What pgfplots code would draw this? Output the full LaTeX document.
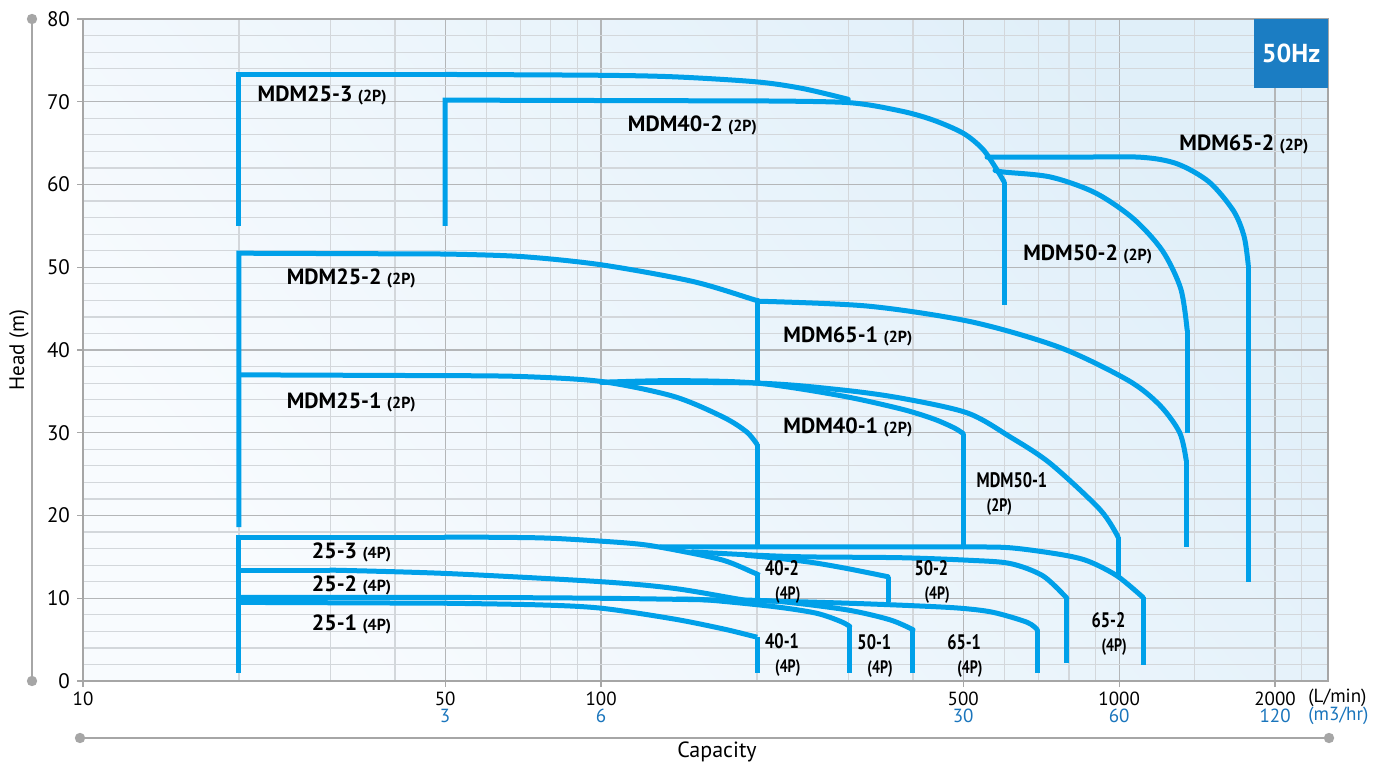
\documentclass[border=0pt]{standalone}
\usepackage{fontspec}
\setmainfont{PT Sans}
\newfontfamily\condfont{PT Sans}[FakeStretch=0.78]
\usepackage{pgfplots}
\pgfplotsset{compat=1.18}
\definecolor{curve}{HTML}{00A0E9}
\definecolor{tickblue}{HTML}{1A75BC}
\definecolor{hzblue}{HTML}{1B7DC3}
\definecolor{gridmaj}{HTML}{B4B6B8}
\definecolor{gridmin}{HTML}{D3D7DB}
\definecolor{framegray}{HTML}{A6A6A6}
\definecolor{bgTR}{HTML}{E0EFF9}
\definecolor{bgBL}{HTML}{F8FBFE}
\newcommand{\lbl}[2]{{\fontsize{11}{12}\selectfont\bfseries #1}~{\fontsize{8}{9}\selectfont\bfseries (#2)}}
\newcommand{\clbl}[2]{{\condfont\bfseries\fontsize{10.5}{10}\selectfont #1}\\\hspace*{5pt}{\condfont\bfseries\fontsize{9}{10}\selectfont (#2)}}
\pgfplotsset{
  pc/.style={draw=curve, line width=2.5pt, smooth, tension=0.5, line cap=round, mark=none},
  pv/.style={draw=curve, line width=2.5pt, sharp plot, line cap=butt, line join=miter, mark=none},
}
\begin{document}
\begin{tikzpicture}
\begin{axis}[
  at={(0,0)}, anchor=south west,
  scale only axis, width=622.5pt, height=331pt,
  xmode=log, xmin=10, xmax=2530, ymin=0, ymax=80,
  clip=false,
  xtick={10,50,100,500,1000,2000},
  xticklabels={{10\\\phantom{3}},{50\\\textcolor{tickblue}{3}},{100\\\textcolor{tickblue}{6}},{500\\\textcolor{tickblue}{30}},{1000\\\textcolor{tickblue}{60}},{2000\\\textcolor{tickblue}{120}}},
  minor xtick={20,30,40,60,70,80,90,200,300,400,600,700,800,900,1400,2250},
  ytick={0,10,...,80},
  minor y tick num=4,
  grid=both,
  major grid style={gridmaj, line width=0.6pt},
  minor grid style={gridmin, line width=0.6pt},
  axis line style={framegray, line width=1pt},
  tick align=outside, tick pos=left,
  major tick length=3pt, minor tick length=0pt,
  tick style={framegray, line width=0.6pt},
  xticklabel style={align=center, font=\fontsize{9.5}{8.6}\selectfont, text=black, yshift=1pt},
  yticklabel style={font=\fontsize{10.5}{12}\selectfont},
  /pgf/number format/assume math mode=true,
  axis background/.style={top color=bgTR, bottom color=bgBL, shading angle=-50},
]
% ---- 2P verticals and curves
\addplot[pv] coordinates {(20,18.6) (20,51.7) (50,51.6)};
% MDM25-3
\addplot[pv] coordinates {(20,55) (20,73.3) (50,73.3)};
\addplot[pc] coordinates {(50,73.3) (100,73.2) (140,73.0) (200,72.4) (245,71.6) (300,70.3)};
% MDM40-2
\addplot[pv] coordinates {(50,55) (50,70.2) (200,70.1)};
\addplot[pc] coordinates {(200,70.1) (300,69.9) (378,68.9) (437,67.8) (500,66.2) (545,64.3) (578,62.0) (600,60.3)};
\addplot[pv] coordinates {(600,60.3) (600,45.4)};
% MDM65-2
\addplot[pc] coordinates {(556,63.3) (800,63.3) (1098,63.3) (1294,62.5) (1492,60.3) (1663,56.8) (1743,53.7) (1775,50.3)};
\addplot[pv] coordinates {(1775,50.3) (1775,12.0)};
% MDM50-2
\addplot[pc] coordinates {(576,61.7) (600,61.5) (738,60.9) (899,59.0) (1064,55.9) (1212,52.0) (1315,47.4) (1353,42.4)};
\addplot[pv] coordinates {(1353,42.4) (1353,30.0)};
% MDM25-2
\addplot[pc] coordinates {(50,51.6) (70,51.3) (100,50.3) (150,48.3) (197,46.1) (200,46.0)};
\addplot[pv] coordinates {(200,46.0) (200,36.0)};
% MDM65-1
\addplot[pc] coordinates {(200,45.9) (328,45.3) (519,43.4) (769,40.3) (1043,36.3) (1199,33.3) (1309,30.0) (1347,26.7)};
\addplot[pv] coordinates {(1347,26.7) (1347,16.2)};
% MDM25-1
\addplot[pv] coordinates {(20,37.0) (50,36.9)};
\addplot[pc] coordinates {(50,36.9) (70,36.8) (100,36.2) (138,34.4) (172,31.9) (191,30.1) (200,28.6)};
\addplot[pv] coordinates {(200,28.6) (200,16.2)};
% MDM40-1
\addplot[pc] coordinates {(100,36.1) (138,36.3) (200,36.0) (289,34.5) (378,32.9) (437,31.7) (480,30.6) (500,29.9)};
\addplot[pv] coordinates {(500,29.9) (500,16.2)};
% MDM50-1
\addplot[pc] coordinates {(100,36.1) (200,36.0) (289,35.2) (378,34.2) (509,32.4) (616,29.5) (736,26.3) (919,20.7) (995,17.4)};
\addplot[pv] coordinates {(995,17.4) (995,12.6)};
% ---- 4P
% 25-3
\addplot[pv] coordinates {(20,1.0) (20,17.4) (50,17.4)};
\addplot[pc] coordinates {(50,17.4) (76,17.3) (100,16.9) (120,16.5) (140,15.8) (172,14.6) (197,13.1) (200,12.9)};
\addplot[pv] coordinates {(200,12.9) (200,9.8)};
% 65-2
\addplot[pc] coordinates {(130,16.2) (300,16.2) (500,16.2) (616,16.1) (769,15.3) (870,14.5) (991,12.7) (1112,10.1)};
\addplot[pv] coordinates {(1112,10.1) (1112,1.9)};
% 50-2
\addplot[pc] coordinates {(150,15.6) (200,15.2) (250,15.0) (378,14.9) (509,14.6) (616,14.2) (713,12.7) (793,10.0)};
\addplot[pv] coordinates {(793,10.0) (793,2.2)};
% 40-2
\addplot[pc] coordinates {(190,15.2) (222,14.8) (257,14.3) (298,13.6) (358,12.6)};
\addplot[pv] coordinates {(358,12.6) (358,9.5)};
% 25-2
\addplot[pv] coordinates {(20,13.4) (30,13.4)};
\addplot[pc] coordinates {(30,13.4) (50,13.0) (100,12.0) (138,11.2) (180,10.0) (200,9.5)};
% 65-1
\addplot[pc] coordinates {(20,10.1) (50,10.1) (100,10.0) (200,9.7) (300,9.4) (400,9.1) (493,8.8) (571,8.3) (664,7.1) (695,6.2)};
\addplot[pv] coordinates {(695,6.2) (695,1.0)};
% 40-1
\addplot[pc] coordinates {(140,9.9) (160,9.8) (215,9.0) (260,8.2) (290,7.2) (302,6.6)};
\addplot[pv] coordinates {(302,6.6) (302,1.0)};
% 50-1
\addplot[pc] coordinates {(180,9.8) (222,9.6) (298,8.6) (361,7.4) (400,6.2)};
\addplot[pv] coordinates {(400,6.2) (400,1.0)};
% 25-1
\addplot[pv] coordinates {(20,9.5) (50,9.4)};
\addplot[pc] coordinates {(50,9.4) (76,9.2) (100,8.8) (138,7.5) (172,6.3) (197,5.4) (200,5.3)};
\addplot[pv] coordinates {(200,5.3) (200,1.0)};
% ---- labels
\begin{scope}[every node/.style={inner sep=0pt, anchor=west, text=black}]
\node at (axis cs:21.7,70.8) {\lbl{MDM25-3}{2P}};
\node at (axis cs:112.5,67.1) {\lbl{MDM40-2}{2P}};
\node at (axis cs:1305,64.9) {\lbl{MDM65-2}{2P}};
\node at (axis cs:652,51.5) {\lbl{MDM50-2}{2P}};
\node at (axis cs:24.7,48.6) {\lbl{MDM25-2}{2P}};
\node at (axis cs:224.5,41.6) {\lbl{MDM65-1}{2P}};
\node at (axis cs:24.7,33.7) {\lbl{MDM25-1}{2P}};
\node at (axis cs:224.5,30.7) {\lbl{MDM40-1}{2P}};
\node[align=left] at (axis cs:530,22.6) {\clbl{MDM50-1}{2P}};
\node at (axis cs:27.6,15.6) {\lbl{25-3}{4P}};
\node at (axis cs:27.6,11.5) {\lbl{25-2}{4P}};
\node at (axis cs:27.6,6.9) {\lbl{25-1}{4P}};
\node[align=left] at (axis cs:207,12.0) {\clbl{40-2}{4P}};
\node[align=left] at (axis cs:402,12.0) {\clbl{50-2}{4P}};
\node[align=left] at (axis cs:883,5.7) {\clbl{65-2}{4P}};
\node[align=left] at (axis cs:207,3.1) {\clbl{40-1}{4P}};
\node[align=left] at (axis cs:312,3.0) {\clbl{50-1}{4P}};
\node[align=left] at (axis cs:465,3.0) {\clbl{65-1}{4P}};
\end{scope}
\fill[hzblue] (rel axis cs:0.9406,0.8958) rectangle (rel axis cs:1,1);
\node[text=white, font=\fontsize{13}{15}\selectfont\bfseries] at (rel axis cs:0.9703,0.9479) {50Hz};
\end{axis}
% outside decorations
\draw[framegray, line width=1pt] (-25.5pt,0pt) -- (-25.5pt,331pt);
\fill[framegray] (-25.5pt,0pt) circle (2.6pt) (-25.5pt,331pt) circle (2.6pt);
\draw[framegray, line width=1pt] (-1.5pt,-28.5pt) -- (623pt,-28.5pt);
\fill[framegray] (-1.5pt,-28.5pt) circle (2.6pt) (623pt,-28.5pt) circle (2.6pt);
\node[rotate=90, font=\fontsize{10.5}{12}\selectfont] at (-32pt,165.5pt) {Head (m)};
\node[font=\fontsize{11}{12}\selectfont] at (317pt,-35.5pt) {Capacity};
\node[anchor=west, inner sep=0pt, font=\fontsize{9.5}{8}\selectfont] at (612.5pt,-8.5pt) {(L/min)};
\node[anchor=west, inner sep=0pt, font=\fontsize{9.5}{8}\selectfont, text=tickblue] at (612.5pt,-17.5pt) {(m3/hr)};
\pgfresetboundingbox
\useasboundingbox (-41.5pt,-40.5pt) rectangle (646.5pt,340.5pt);
\end{tikzpicture}
\end{document}
